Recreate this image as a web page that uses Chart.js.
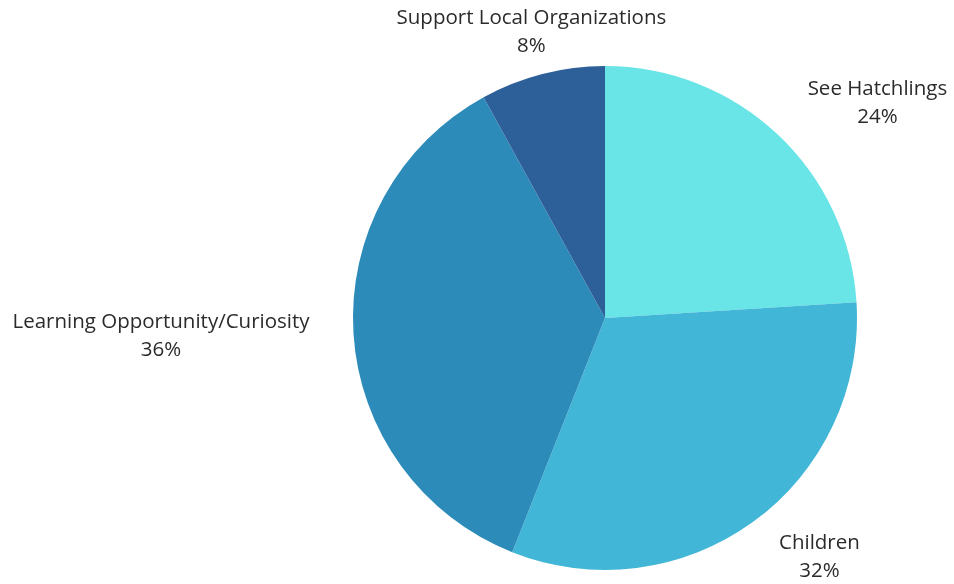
<!DOCTYPE html>
<html>
<head>
<meta charset="utf-8">
<script src="https://cdn.jsdelivr.net/npm/chart.js@4"></script>
<style>
    html, body { margin: 0; padding: 0; background: #ffffff; }
    #box { width: 954px; height: 584px; }
</style>
</head>
<body>
<div id="box"><canvas id="myChart"></canvas></div>
<script>
const categories = ["See Hatchlings", "Children", "Learning Opportunity/Curiosity", "Support Local Organizations"];
const shares = [24, 32, 36, 8];
const sliceColors = ["#69e5e8", "#42b6d6", "#2d8bba", "#2d5f98"];

// text outside each slice: name on top, percent below
const outsideLabels = {
    id: "outsideLabels",
    afterDatasetsDraw(chart) {
        const ctx = chart.ctx;
        const meta = chart.getDatasetMeta(0);
        ctx.save();
        ctx.font = "20.5px 'Open Sans'";
        ctx.fillStyle = "#2b2b2b";
        ctx.textAlign = "center";
        ctx.textBaseline = "middle";
        const lineH = 28;
        meta.data.forEach(function (arc, i) {
            const mid = (arc.startAngle + arc.endAngle) / 2;
            const ax = arc.x + Math.cos(mid) * (arc.outerRadius + 44);
            const ay = arc.y + Math.sin(mid) * (arc.outerRadius + 15);
            const lines = [categories[i], shares[i] + "%"];
            const w = Math.max(...lines.map(l => ctx.measureText(l).width));
            const h = lineH * lines.length;
            let cx = ax;
            if (Math.abs(Math.cos(mid)) > 0.5) {
                cx = ax + Math.sign(Math.cos(mid)) * w / 2;
            }
            const cy = ay + Math.sin(mid) * h / 2;
            lines.forEach(function (l, k) {
                ctx.fillText(l, cx, cy - h / 2 + lineH / 2 + k * lineH);
            });
        });
        ctx.restore();
    }
};

new Chart(document.getElementById("myChart"), {
    type: "pie",
    data: {
        labels: categories,
        datasets: [{
            data: shares,
            backgroundColor: sliceColors,
            borderWidth: 0
        }]
    },
    options: {
        responsive: true,
        maintainAspectRatio: false,
        animation: false,
        layout: { padding: { left: 353, right: 97, top: 66, bottom: 14 } },
        plugins: {
            legend: { display: false },
            tooltip: { enabled: false }
        }
    },
    plugins: [outsideLabels]
});
</script>
</body>
</html>
